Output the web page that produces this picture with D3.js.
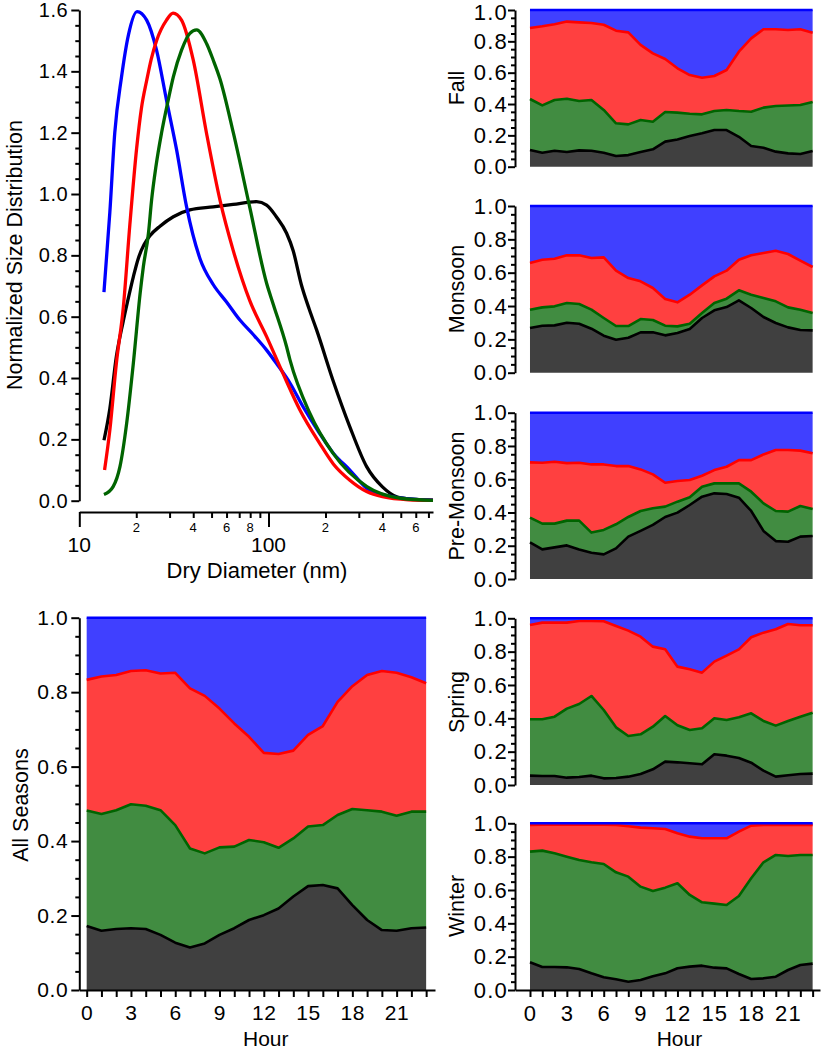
<!DOCTYPE html>
<html><head><meta charset="utf-8">
<script src="https://cdn.jsdelivr.net/npm/d3@7"></script>
<style>
body{margin:0;background:#fff}
svg{display:block}
text{font-family:"Liberation Sans",Arial,Helvetica,sans-serif;fill:#000}
</style>
</head><body>
<svg id="chart" width="822" height="1050"></svg>
<script>
// ---------- Size distribution data (diameter nm, normalized value) ----------
const blueD  = [13.5,14.5,15.4,16.7,18.2,20.2,22.7,25.6,28.9,32.7,36.9,43.4,51,60,70.6,83,97.7,110,130,152,186,220,269,330,400,485,600,740];
const blueV  = [0.68,0.94,1.2,1.38,1.52,1.595,1.567,1.469,1.306,1.143,0.958,0.79,0.705,0.648,0.589,0.542,0.491,0.448,0.383,0.307,0.220,0.155,0.10,0.041,0.02,0.01,0.004,0.002];
const redD   = [13.6,14.5,15.7,17.1,18.5,20.1,21.3,22.7,24,25.6,28.9,31.3,34.7,40,47,55.4,65,79.5,97.7,119,146.5,186,220,269,330,400,550,740];
const redV   = [0.10,0.23,0.448,0.633,0.90,1.15,1.28,1.37,1.44,1.50,1.567,1.59,1.567,1.437,1.199,0.98,0.817,0.653,0.535,0.416,0.296,0.188,0.12,0.067,0.03,0.013,0.003,0.001];
const greenD = [13.5,15.1,16.4,17.8,19.3,21,21.8,23.2,24.1,25.4,27.2,29.5,31.4,34.7,38.4,41.7,47.1,51,55.4,65.2,79.5,97.7,106,124.6,129.7,165,219,331,500,740];
const greenV = [0.02,0.046,0.111,0.253,0.448,0.68,0.763,0.872,0.98,1.089,1.199,1.306,1.382,1.469,1.524,1.535,1.49,1.437,1.375,1.199,0.958,0.709,0.640,0.502,0.460,0.286,0.155,0.046,0.008,0.001];
const blackD = [13.5,14.5,15.7,17,18,19.3,20.5,22,23.7,26.7,31.4,38.4,51,65,86.5,97.7,110,124.6,135,149,164,179.5,219,269,330,400,480,600,740];
const blackV = [0.197,0.3,0.47,0.58,0.65,0.73,0.79,0.835,0.865,0.895,0.926,0.948,0.958,0.966,0.975,0.964,0.926,0.872,0.815,0.705,0.625,0.557,0.393,0.241,0.111,0.045,0.012,0.004,0.002];

const distYTicks = [0,0.2,0.4,0.6,0.8,1.0,1.2,1.4,1.6];
const distXMajor = [10,100];
const distXMinor = [20,30,40,50,60,70,80,90,200,300,400,500,600,700];
const distXMinorLabels = [20,40,60,80,200,400,600];

// ---------- Diurnal stacked fractions (cumulative upper boundaries per hour) ----------
const hours = [0,1,2,3,4,5,6,7,8,9,10,11,12,13,14,15,16,17,18,19,20,21,22,23];
const hourLabels = [0,3,6,9,12,15,18,21];
const fracTicks = [0,0.2,0.4,0.6,0.8,1.0];

const allBlack = [0.172,0.159,0.164,0.166,0.164,0.148,0.127,0.114,0.125,0.148,0.166,0.188,0.201,0.219,0.251,0.279,0.282,0.273,0.228,0.188,0.161,0.159,0.166,0.168];
const allGreen = [0.482,0.473,0.483,0.499,0.495,0.483,0.443,0.380,0.367,0.383,0.385,0.403,0.397,0.382,0.407,0.439,0.443,0.470,0.486,0.483,0.479,0.468,0.479,0.479];
const allRed   = [0.833,0.842,0.846,0.857,0.859,0.850,0.852,0.810,0.790,0.756,0.716,0.680,0.637,0.634,0.643,0.685,0.709,0.774,0.816,0.846,0.857,0.852,0.840,0.824];

const fallBlack = [0.106,0.089,0.102,0.094,0.104,0.102,0.089,0.068,0.074,0.094,0.111,0.160,0.174,0.196,0.213,0.234,0.234,0.191,0.132,0.121,0.096,0.085,0.081,0.100];
const fallGreen = [0.432,0.391,0.426,0.434,0.419,0.426,0.362,0.277,0.270,0.298,0.287,0.349,0.345,0.338,0.334,0.355,0.362,0.355,0.351,0.377,0.387,0.391,0.394,0.413];
const fallRed   = [0.885,0.896,0.909,0.926,0.921,0.917,0.906,0.868,0.857,0.777,0.723,0.687,0.628,0.585,0.568,0.579,0.617,0.734,0.819,0.877,0.877,0.872,0.877,0.855];

const monBlack = [0.268,0.282,0.284,0.300,0.294,0.264,0.222,0.198,0.210,0.242,0.242,0.224,0.238,0.262,0.328,0.374,0.394,0.434,0.388,0.334,0.298,0.272,0.256,0.254];
const monGreen = [0.378,0.392,0.398,0.418,0.412,0.378,0.328,0.280,0.280,0.322,0.316,0.282,0.278,0.294,0.358,0.418,0.444,0.494,0.468,0.448,0.428,0.392,0.378,0.358];
const monRed   = [0.658,0.678,0.684,0.704,0.704,0.688,0.692,0.612,0.568,0.548,0.508,0.442,0.422,0.468,0.524,0.578,0.612,0.678,0.704,0.718,0.732,0.712,0.672,0.634];

const preBlack = [0.220,0.178,0.190,0.202,0.178,0.158,0.148,0.184,0.255,0.289,0.325,0.373,0.399,0.445,0.495,0.515,0.511,0.489,0.409,0.289,0.228,0.224,0.255,0.259];
const preGreen = [0.369,0.333,0.333,0.351,0.351,0.279,0.295,0.329,0.373,0.409,0.425,0.435,0.465,0.491,0.555,0.575,0.575,0.575,0.525,0.455,0.409,0.405,0.439,0.421];
const preRed   = [0.701,0.699,0.705,0.697,0.699,0.689,0.689,0.679,0.679,0.659,0.629,0.579,0.589,0.595,0.621,0.655,0.675,0.715,0.715,0.749,0.776,0.776,0.772,0.756];

const sprBlack = [0.056,0.054,0.054,0.044,0.048,0.056,0.040,0.042,0.050,0.066,0.094,0.140,0.136,0.130,0.124,0.184,0.176,0.162,0.134,0.086,0.050,0.058,0.066,0.068];
const sprGreen = [0.394,0.394,0.410,0.458,0.486,0.534,0.450,0.346,0.294,0.304,0.350,0.414,0.358,0.330,0.340,0.400,0.390,0.406,0.430,0.384,0.356,0.384,0.410,0.434];
const sprRed   = [0.960,0.974,0.974,0.974,0.984,0.984,0.982,0.954,0.926,0.890,0.830,0.814,0.710,0.694,0.674,0.740,0.776,0.814,0.886,0.914,0.934,0.966,0.958,0.958];

const winBlack = [0.166,0.138,0.138,0.136,0.126,0.100,0.076,0.064,0.050,0.060,0.082,0.100,0.130,0.140,0.146,0.134,0.130,0.096,0.066,0.070,0.080,0.120,0.150,0.158];
const winGreen = [0.830,0.836,0.820,0.800,0.780,0.766,0.756,0.706,0.680,0.620,0.594,0.614,0.640,0.570,0.526,0.518,0.510,0.564,0.670,0.766,0.810,0.804,0.810,0.810];
const winRed   = [0.990,0.992,0.992,0.992,0.992,0.992,0.992,0.990,0.982,0.974,0.970,0.966,0.940,0.920,0.910,0.910,0.910,0.950,0.986,0.990,0.990,0.990,0.990,0.990];

// ---------- styles ----------
const LINE = {blue:"#0000ff", red:"#ff0000", green:"#006400", black:"#000000"};
const FILL = {blue:"#4040ff", red:"#ff4040", green:"#418c41", black:"#404040"};

const svg = d3.select("#chart");

function styleAxis(g, fs, ls){
  g.attr("font-family", null).attr("font-size", null);
  g.selectAll("path.domain").attr("stroke","#000").attr("stroke-width",2);
  g.selectAll(".tick line").attr("stroke","#000").attr("stroke-width",2);
  g.selectAll(".tick text").style("font-size", fs+"px").style("letter-spacing", (ls||0)+"px").attr("fill","#000");
}

function yAxisWithMinor(x, scale, majors, step, fs, tickLen, pad, ls){
  const [lo, hi] = [d3.min(majors), d3.max(majors)];
  const minors = d3.range(lo, hi + 1e-9, step).filter(v => !majors.some(m => Math.abs(m - v) < 1e-6));
  const gm = svg.append("g").attr("transform", `translate(${x},0)`)
    .call(d3.axisLeft(scale).tickValues(minors).tickSize(4).tickFormat(""));
  gm.select(".domain").remove();
  styleAxis(gm, fs);
  const g = svg.append("g").attr("transform", `translate(${x},0)`)
    .call(d3.axisLeft(scale).tickValues(majors).tickSize(tickLen).tickSizeOuter(0).tickPadding(pad).tickFormat(d3.format(".1f")));
  styleAxis(g, fs, ls);
  return g;
}

function rotLabel(x, y, txt, fs){
  svg.append("text").attr("transform", `translate(${x},${y}) rotate(-90)`)
    .attr("text-anchor","middle").style("font-size", fs+"px").text(txt);
}

// ---------- Panel A: size distributions ----------
{
  const x = d3.scaleLog().domain([10, 740]).range([79.3, 433]);
  const y = d3.scaleLinear().domain([0, 1.6]).range([500.7, 10]);
  yAxisWithMinor(79.3, y, distYTicks, 0.05, 20, 8, 3, 0.6);

  const gx = svg.append("g").attr("transform","translate(0,512)");
  const gMin = gx.append("g").call(d3.axisBottom(x).tickValues(distXMinor).tickSize(6).tickSizeOuter(0).tickFormat(""));
  styleAxis(gMin, 13);
  const gMaj = gx.append("g").call(d3.axisBottom(x).tickValues(distXMajor).tickSize(15).tickSizeOuter(0).tickFormat(""));
  gMaj.select(".domain").remove();
  styleAxis(gMaj, 20);
  gx.selectAll("text.minlab").data(distXMinorLabels).join("text").attr("class","minlab")
    .attr("x", d => x(d)).attr("y", 19.7).attr("text-anchor","middle").style("font-size","13px")
    .text(d => String(d).charAt(0));
  gx.selectAll("text.majlab").data(distXMajor).join("text").attr("class","majlab")
    .attr("x", d => x(d)).attr("y", 39.7).attr("text-anchor","middle").style("font-size","21px")
    .text(d => d);
  svg.append("text").attr("x", 257).attr("y", 578).attr("text-anchor","middle").style("font-size","22px").text("Dry Diameter (nm)");
  rotLabel(21.5, 255, "Normalized Size Distribution", 21.5);

  const line = d3.line().x(d => x(d[0])).y(d => y(d[1])).curve(d3.curveMonotoneX);
  const series = [
    {d: blackD, v: blackV, c: LINE.black},
    {d: blueD,  v: blueV,  c: LINE.blue},
    {d: redD,   v: redV,   c: LINE.red},
    {d: greenD, v: greenV, c: LINE.green}
  ];
  series.forEach(s => {
    svg.append("path").datum(s.d.map((dd,i) => [dd, s.v[i]]))
      .attr("d", line).attr("fill","none").attr("stroke", s.c).attr("stroke-width", 3.3)
      .attr("stroke-linejoin","round");
  });
}

// ---------- stacked diurnal panels ----------
function stackPanel(opt){
  const {x, y, black, green, red, label, lx, ly, showX, fs, tickLen, pad, ls, nudgeTop} = opt;
  const rows = hours.map((h,i) => ({h, b: black[i], g: green[i], r: red[i], t: 1}));
  const layers = [
    {lo: d => 0,    hi: d => d.b, fill: FILL.black},
    {lo: d => d.b,  hi: d => d.g, fill: FILL.green},
    {lo: d => d.g,  hi: d => d.r, fill: FILL.red},
    {lo: d => d.r,  hi: d => d.t, fill: FILL.blue}
  ];
  layers.forEach(L => {
    svg.append("path").datum(rows)
      .attr("d", d3.area().x(d => x(d.h)).y0(d => y(L.lo(d))).y1(d => y(L.hi(d))))
      .attr("fill", L.fill);
  });
  const bounds = [
    {f: d => d.b, c: LINE.black},
    {f: d => d.g, c: LINE.green},
    {f: d => d.r, c: LINE.red},
    {f: d => d.t, c: LINE.blue}
  ];
  bounds.forEach(B => {
    svg.append("path").datum(rows)
      .attr("d", d3.line().x(d => x(d.h)).y(d => y(B.f(d))))
      .attr("fill","none").attr("stroke", B.c).attr("stroke-width", 2.6).attr("stroke-linejoin","round");
  });
  const ga = yAxisWithMinor(x.range()[0], y, fracTicks, 0.05, fs, tickLen, pad, ls);
  if (nudgeTop){
    ga.selectAll(".tick text").filter(d => d === 1).attr("dy", "0.45em");
  }
  if (showX){
    const g = svg.append("g").attr("transform", `translate(0,${y(0)})`)
      .call(d3.axisBottom(x).tickValues(hours).tickSize(7).tickSizeOuter(0).tickPadding(8)
        .tickFormat(d => hourLabels.includes(d) ? d : ""));
    styleAxis(g, fs, ls);
    svg.append("text").attr("x", x(12) + 2).attr("y", 1046).attr("text-anchor","middle")
      .style("font-size","21px").text("Hour");
  }
  rotLabel(lx, ly, label, 21.5);
}

// All Seasons (large)
stackPanel({
  x: d3.scaleLinear().domain([-0.5, 23.6]).range([79.3, 435]),
  y: d3.scaleLinear().domain([0, 1]).range([990, 617.7]),
  black: allBlack, green: allGreen, red: allRed,
  label: "All Seasons", lx: 28.3, ly: 805, showX: true, fs: 21, tickLen: 8, pad: 3, ls: 0.6
});

const xR = d3.scaleLinear().domain([-1.22, 23.6]).range([515, 820]);
const rightPanels = [
  {black: fallBlack, green: fallGreen, red: fallRed, label: "Fall",        top: 10,    bot: 166.7, ly: 88},
  {black: monBlack,  green: monGreen,  red: monRed,  label: "Monsoon",     top: 206,   bot: 372.7, ly: 289},
  {black: preBlack,  green: preGreen,  red: preRed,  label: "Pre-Monsoon", top: 412.7, bot: 579,   ly: 496},
  {black: sprBlack,  green: sprGreen,  red: sprRed,  label: "Spring",      top: 618.3, bot: 785,   ly: 702},
  {black: winBlack,  green: winGreen,  red: winRed,  label: "Winter",      top: 823.3, bot: 990,   ly: 906}
];
rightPanels.forEach((p, i) => {
  stackPanel({
    x: xR,
    y: d3.scaleLinear().domain([0, 1]).range([p.bot, p.top]),
    black: p.black, green: p.green, red: p.red,
    label: p.label, lx: 463.5, ly: p.ly, showX: i === rightPanels.length - 1,
    fs: 22, tickLen: 7, pad: 0, ls: 1.2, nudgeTop: i === 0
  });
});
</script>
</body></html>
